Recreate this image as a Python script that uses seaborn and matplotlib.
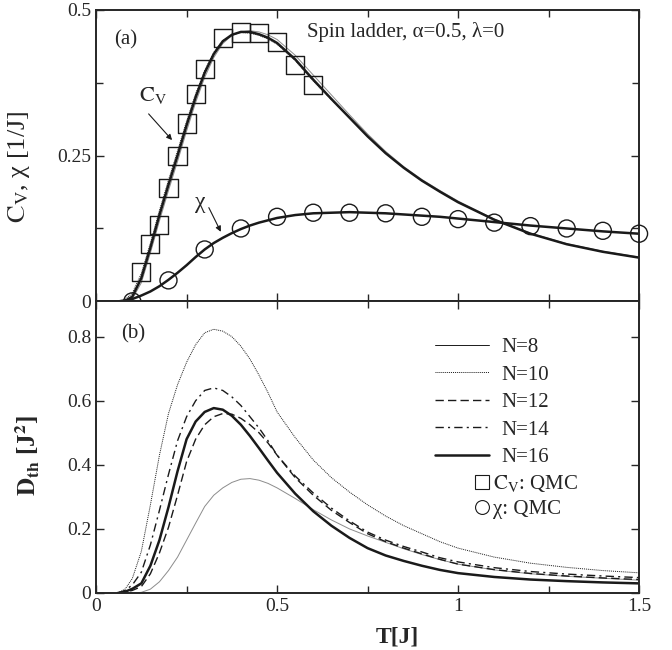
import numpy as np
import pandas as pd
import seaborn as sns
import matplotlib.pyplot as plt
from matplotlib.lines import Line2D
from matplotlib.ticker import MultipleLocator

# ---- data ----
# panel (a): specific heat and susceptibility
t_top = [0.06, 0.08, 0.1, 0.125, 0.15, 0.175, 0.2, 0.225, 0.25, 0.275, 0.3, 0.325, 0.35, 0.375,
         0.4, 0.425, 0.45, 0.475, 0.5, 0.55, 0.6, 0.65, 0.7, 0.75, 0.8, 0.85, 0.9, 0.95, 1.0,
         1.1, 1.2, 1.3, 1.4, 1.5]
cv_n16 = [0.0, 0.001, 0.008, 0.04, 0.092, 0.148, 0.2, 0.25, 0.302, 0.35, 0.392, 0.424, 0.446,
          0.457, 0.462, 0.462, 0.458, 0.452, 0.443, 0.415, 0.38, 0.347, 0.315, 0.283, 0.254,
          0.229, 0.207, 0.188, 0.17, 0.14, 0.116, 0.098, 0.085, 0.075]
cv_n10 = [0.0, 0.003, 0.014, 0.048, 0.1, 0.156, 0.208, 0.258, 0.309, 0.356, 0.396, 0.427, 0.447,
          0.457, 0.461, 0.46, 0.456, 0.45, 0.441, 0.413, 0.378, 0.346, 0.315, 0.283, 0.254,
          0.229, 0.207, 0.188, 0.17, 0.14, 0.116, 0.098, 0.085, 0.075]
cv_n8 = [0.0, 0.0, 0.004, 0.032, 0.083, 0.138, 0.19, 0.24, 0.292, 0.341, 0.384, 0.418, 0.442,
         0.456, 0.462, 0.464, 0.462, 0.457, 0.449, 0.422, 0.388, 0.354, 0.32, 0.287, 0.257,
         0.231, 0.209, 0.19, 0.172, 0.141, 0.117, 0.099, 0.086, 0.076]
chi_n16 = [0.0, 0.001, 0.004, 0.01, 0.017, 0.026, 0.037, 0.049, 0.062, 0.076, 0.089, 0.1, 0.109,
           0.117, 0.124, 0.13, 0.135, 0.139, 0.143, 0.148, 0.151, 0.152, 0.153, 0.152, 0.151,
           0.149, 0.147, 0.145, 0.142, 0.136, 0.13, 0.125, 0.12, 0.116]

t_cv_qmc = [0.125, 0.15, 0.175, 0.2, 0.225, 0.25, 0.275, 0.3, 0.35, 0.4, 0.45, 0.5, 0.55, 0.6]
cv_qmc = [0.05, 0.098, 0.131, 0.195, 0.249, 0.305, 0.355, 0.399, 0.452, 0.461, 0.46, 0.444,
          0.406, 0.371]
t_chi_qmc = [0.1, 0.2, 0.3, 0.4, 0.5, 0.6, 0.7, 0.8, 0.9, 1.0, 1.1, 1.2, 1.3, 1.4, 1.5]
chi_qmc = [0.0, 0.036, 0.089, 0.125, 0.145, 0.152, 0.152, 0.151, 0.145, 0.141, 0.135, 0.129,
           0.125, 0.121, 0.116]

# panel (b): thermal Drude weight
t_bot = [0.06, 0.08, 0.1, 0.125, 0.15, 0.175, 0.2, 0.225, 0.25, 0.275, 0.3, 0.325, 0.35, 0.375,
         0.4, 0.425, 0.45, 0.475, 0.5, 0.55, 0.6, 0.65, 0.7, 0.75, 0.8, 0.85, 0.9, 0.95, 1.0,
         1.1, 1.2, 1.3, 1.4, 1.5]
d_n8 = [0.0, 0.0, 0.0, 0.002, 0.012, 0.035, 0.07, 0.112, 0.165, 0.218, 0.27, 0.305, 0.328, 0.345,
        0.355, 0.357, 0.352, 0.342, 0.328, 0.295, 0.26, 0.228, 0.2, 0.178, 0.158, 0.138, 0.12,
        0.104, 0.09, 0.072, 0.06, 0.052, 0.046, 0.04]
d_n10 = [0.0, 0.012, 0.045, 0.13, 0.275, 0.43, 0.56, 0.65, 0.72, 0.775, 0.812, 0.823, 0.817, 0.8,
         0.77, 0.73, 0.68, 0.625, 0.565, 0.485, 0.415, 0.36, 0.315, 0.275, 0.24, 0.21, 0.185,
         0.16, 0.14, 0.112, 0.093, 0.08, 0.07, 0.063]
d_n12 = [0.0, 0.002, 0.008, 0.02, 0.06, 0.125, 0.205, 0.305, 0.41, 0.48, 0.525, 0.55, 0.56, 0.558,
         0.545, 0.525, 0.5, 0.468, 0.43, 0.36, 0.305, 0.258, 0.22, 0.185, 0.16, 0.14, 0.122,
         0.105, 0.09, 0.073, 0.061, 0.053, 0.047, 0.042]
d_n14 = [0.0, 0.008, 0.025, 0.065, 0.15, 0.258, 0.37, 0.475, 0.55, 0.6, 0.632, 0.64, 0.632, 0.612,
         0.585, 0.55, 0.515, 0.475, 0.43, 0.365, 0.312, 0.265, 0.225, 0.19, 0.165, 0.145, 0.128,
         0.11, 0.097, 0.079, 0.067, 0.059, 0.053, 0.048]
d_n16 = [0.0, 0.004, 0.013, 0.03, 0.085, 0.165, 0.268, 0.38, 0.48, 0.535, 0.565, 0.577, 0.572,
         0.553, 0.525, 0.49, 0.452, 0.413, 0.375, 0.31, 0.255, 0.21, 0.172, 0.14, 0.117, 0.1,
         0.085, 0.072, 0.062, 0.05, 0.042, 0.037, 0.033, 0.03]

legend_labels = ["N=8", "N=10", "N=12", "N=14", "N=16"]

# ---- style ----
sns.set_theme(style="ticks")
plt.rcParams['font.family'] = ['Liberation Serif', 'DejaVu Serif']
plt.rcParams['mathtext.fontset'] = 'stix'

fig, (ax1, ax2) = plt.subplots(2, 1, figsize=(6.72, 6.5), dpi=100, sharex=True)
fig.subplots_adjust(left=0.143, right=0.951, top=0.985, bottom=0.0877, hspace=0)

styles = {
    "N=8": dict(color="0.55", lw=0.7, ls="-"),
    "N=10": dict(color="k", lw=0.7, ls=(0, (1, 1))),
    "N=12": dict(color="k", lw=1.0, ls=(0, (6, 3))),
    "N=14": dict(color="k", lw=1.0, ls=(0, (6, 3, 1.5, 3))),
    "N=16": dict(color="k", lw=1.8, ls="-"),
}

# panel (a)
sns.lineplot(x=t_top, y=cv_n8, ax=ax1, color="0.55", lw=0.7)
sns.lineplot(x=t_top, y=cv_n10, ax=ax1, color="k", lw=0.7, linestyle=(0, (1, 1)))
sns.lineplot(x=t_top, y=cv_n16, ax=ax1, color="k", lw=1.8)
sns.lineplot(x=t_top, y=chi_n16, ax=ax1, color="k", lw=1.8)
sns.scatterplot(x=t_cv_qmc, y=cv_qmc, ax=ax1, marker="s", s=170, facecolor="none",
                edgecolor="k", linewidth=1.0, zorder=5)
sns.scatterplot(x=t_chi_qmc, y=chi_qmc, ax=ax1, marker="o", s=150, facecolor="none",
                edgecolor="k", linewidth=1.0, zorder=5, clip_on=False)

ax1.set_xlim(0, 1.5)
ax1.set_ylim(0, 0.5)
ax1.set_yticks([0, 0.25, 0.5])
ax1.set_yticklabels(["0", "0.25", "0.5"])
ax1.yaxis.set_minor_locator(MultipleLocator(0.125))
ax1.set_ylabel(r"$\mathrm{C_V}$, χ [1/J]", fontsize=19)
ax1.yaxis.set_label_coords(-0.118, 0.46)

ax1.text(0.05, 0.448, "(a)", fontsize=15, va="center")
ax1.text(0.583, 0.462, "Spin ladder, α=0.5, λ=0", fontsize=15, va="center")
ax1.text(0.157, 0.353, r"$\mathrm{C_V}$", fontsize=16, ha="center", va="center")
ax1.annotate("", xy=(0.215, 0.273), xytext=(0.14, 0.325),
             arrowprops=dict(arrowstyle="-|>", lw=0.8, color="k", mutation_scale=8))
ax1.text(0.287, 0.17, "χ", fontsize=17, ha="center", va="center")
ax1.annotate("", xy=(0.348, 0.115), xytext=(0.308, 0.165),
             arrowprops=dict(arrowstyle="-|>", lw=0.8, color="k", mutation_scale=8))

# panel (b)
for lab, d in zip(legend_labels, [d_n8, d_n10, d_n12, d_n14, d_n16]):
    st = styles[lab]
    sns.lineplot(x=t_bot, y=d, ax=ax2, color=st["color"], lw=st["lw"], linestyle=st["ls"])

ax2.set_ylim(0, 0.91)
ax2.set_yticks([0, 0.2, 0.4, 0.6, 0.8])
ax2.set_yticklabels(["0", "0.2", "0.4", "0.6", "0.8"])
ax2.set_xticks([0, 0.5, 1.0, 1.5])
ax2.set_xticklabels(["0", "0.5", "1", "1.5"])
ax2.xaxis.set_minor_locator(MultipleLocator(0.25))
ax2.set_ylabel(r"$\mathbf{D_{th}}$ [J$^{\mathbf{2}}$]", fontsize=18, fontweight="bold")
ax2.yaxis.set_label_coords(-0.1, 0.47)
ax2.set_xlabel("T[J]", fontsize=17, fontweight="bold")
ax2.xaxis.set_label_coords(0.554, -0.115)
ax2.text(0.07, 0.81, "(b)", fontsize=15, va="center")

# legends
line_handles = [Line2D([], [], color="k", lw=styles[lab]["lw"], ls=styles[lab]["ls"])
                for lab in legend_labels]
leg1 = ax2.legend(line_handles, legend_labels, loc="upper left", bbox_to_anchor=(0.624, 0.876),
                  frameon=False, fontsize=15, handlelength=2.6, handletextpad=0.6,
                  labelspacing=0.38, borderpad=0, borderaxespad=0)
ax2.add_artist(leg1)
mk_handles = [Line2D([], [], color="k", marker="s", ls="none", mfc="none", ms=10, mew=0.8),
              Line2D([], [], color="k", marker="o", ls="none", mfc="none", ms=10, mew=0.8)]
ax2.legend(mk_handles, [r"$\mathrm{C_V}$: QMC", "χ: QMC"], loc="upper left",
           bbox_to_anchor=(0.696, 0.41), frameon=False, fontsize=15, handlelength=0.8,
           handletextpad=0.1, labelspacing=0.25, borderpad=0, borderaxespad=0)

for ax in (ax1, ax2):
    for sp in ax.spines.values():
        sp.set_linewidth(1.4)
        sp.set_visible(True)
    ax.tick_params(which="both", direction="in", top=True, right=True, labelsize=14,
                   width=1.0)
    ax.tick_params(which="major", length=6)
    ax.tick_params(which="minor", length=5)
ax1.tick_params(labelbottom=False)

fig.savefig("out.png", dpi=100)
